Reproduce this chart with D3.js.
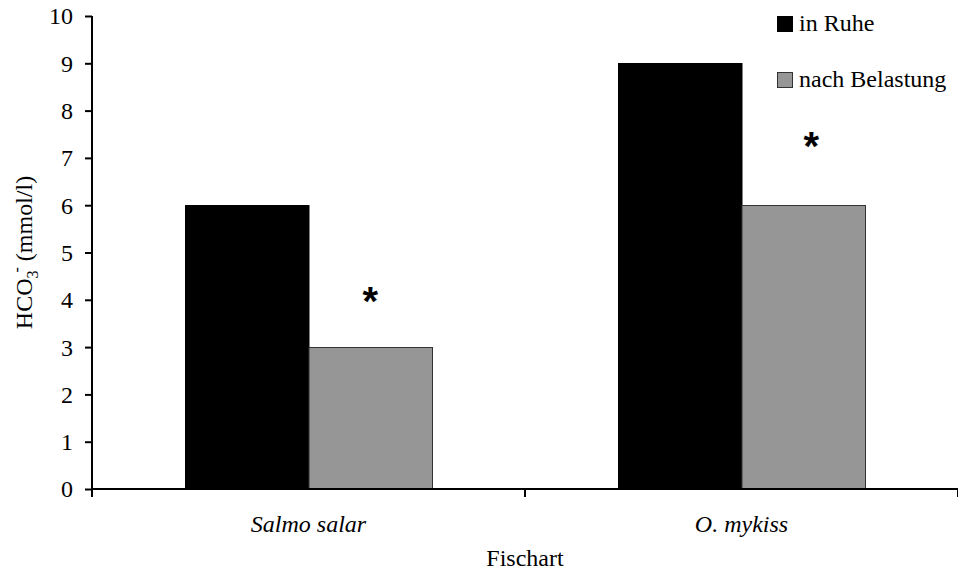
<!DOCTYPE html>
<html>
<head>
<meta charset="utf-8">
<script src="https://cdn.jsdelivr.net/npm/d3@7/dist/d3.min.js"></script>
<style>
  html, body { margin: 0; padding: 0; background: #fff; }
  svg { display: block; }
</style>
</head>
<body>
<script>
// Bicarbonate concentration by fish species, at rest vs. after exercise
const species = ["Salmo salar", "O. mykiss"];
const seriesNames = ["in Ruhe", "nach Belastung"];
const restValues = [6, 9];
const exerciseValues = [3, 6];
// significance markers (height in mmol/l where the star is centred)
const starValues = [4.1, 7.38];
const yTicks = [0, 1, 2, 3, 4, 5, 6, 7, 8, 9, 10];

const W = 958, H = 572;
const margin = { left: 92, right: 0, top: 16, bottom: 83 };
const colors = ["#000000", "#969696"];
const strokes = ["#000000", "#333333"];
const SERIF = '"Liberation Serif"';
const FS = 24;

const svg = d3.select("body").append("svg")
  .attr("width", W).attr("height", H);

const x0 = d3.scaleBand().domain(species)
  .range([margin.left, W - margin.right]).padding(0);
const x1 = d3.scaleBand().domain(seriesNames)
  .range([0, x0.bandwidth()]).paddingInner(0).paddingOuter(0.753);
const y = d3.scaleLinear().domain([0, 10])
  .range([H - margin.bottom, margin.top]);

const rows = species.map((s, i) => ({
  species: s,
  values: [restValues[i], exerciseValues[i]],
  star: starValues[i],
  i
}));

// bars
const groups = svg.append("g").selectAll("g").data(rows).join("g")
  .attr("transform", d => `translate(${x0(d.species)},0)`);

groups.selectAll("rect")
  .data(d => d.values.map((v, j) => ({ key: seriesNames[j], value: v, j })))
  .join("rect")
  .attr("x", d => x1(d.key) + 0.5)
  .attr("y", d => Math.round(y(d.value)) + 0.5)
  .attr("width", x1.bandwidth())
  .attr("height", d => Math.round(y(0)) - Math.round(y(d.value)))
  .attr("fill", d => colors[d.j])
  .attr("stroke", d => strokes[d.j])
  .attr("stroke-width", 1);

// significance stars above the post-exercise bars
const starSize = 40;
const starShift = [0, 8];
groups.append("text")
  .attr("x", d => x1("nach Belastung") + x1.bandwidth() / 2 + starShift[d.i])
  .attr("y", d => y(d.star) + starSize * 0.5)
  .attr("text-anchor", "middle")
  .style("font-family", '"Liberation Sans"')
  .style("font-weight", "bold")
  .style("font-size", starSize + "px")
  .style("fill", "#000")
  .text("*");

// y axis
const yAxis = svg.append("g")
  .attr("transform", `translate(${margin.left},0)`)
  .call(d3.axisLeft(y).tickValues(yTicks).tickSize(7).tickPadding(12).tickFormat(d3.format("d")));
yAxis.attr("font-family", null).attr("font-size", null);
yAxis.select(".domain").attr("stroke", "#000").attr("stroke-width", 2)
  .attr("d", `M0,${margin.top}V${y(0) + 8}`);
yAxis.selectAll(".tick line").attr("stroke", "#000").attr("stroke-width", 2);
yAxis.selectAll(".tick text")
  .attr("dy", "0.33em")
  .style("font-family", SERIF)
  .style("font-size", FS + "px")
  .style("fill", "#000");

// x axis with category boundary ticks
const boundaries = [margin.left + x0.bandwidth(), W - margin.right];
const xAxisG = svg.append("g");
xAxisG.append("line")
  .attr("x1", margin.left).attr("x2", W)
  .attr("y1", y(0)).attr("y2", y(0))
  .attr("stroke", "#000").attr("stroke-width", 2);
xAxisG.selectAll("line.bt").data(boundaries).join("line")
  .attr("class", "bt")
  .attr("x1", d => d).attr("x2", d => d)
  .attr("y1", y(0)).attr("y2", y(0) + 8)
  .attr("stroke", "#000").attr("stroke-width", 2);
xAxisG.selectAll("text").data(species).join("text")
  .attr("x", d => x0(d) + x0.bandwidth() / 2)
  .attr("y", y(0) + 43)
  .attr("text-anchor", "middle")
  .style("font-family", SERIF)
  .style("font-style", "italic")
  .style("font-size", FS + "px")
  .style("fill", "#000")
  .text(d => d);

// axis titles
svg.append("text")
  .attr("x", margin.left + (W - margin.left) / 2)
  .attr("y", 566)
  .attr("text-anchor", "middle")
  .style("font-family", SERIF)
  .style("font-size", FS + "px")
  .style("fill", "#000")
  .text("Fischart");

const yt = svg.append("text")
  .attr("transform", `translate(32,${(margin.top + y(0)) / 2}) rotate(-90)`)
  .attr("text-anchor", "middle")
  .style("font-family", SERIF)
  .style("font-size", FS + "px")
  .style("fill", "#000");
yt.append("tspan").text("HCO");
yt.append("tspan").attr("dy", 6).style("font-size", "16px").text("3");
yt.append("tspan").attr("dy", -16).attr("dx", -2).style("font-size", "16px").text("-");
yt.append("tspan").attr("dy", 10).text(" (mmol/l)");

// legend
const legend = svg.append("g").attr("transform", "translate(777,0)");
const legendY = [16, 72];
seriesNames.forEach((name, i) => {
  legend.append("rect")
    .attr("x", 0.5).attr("y", legendY[i] + 0.5)
    .attr("width", 15).attr("height", 15)
    .attr("fill", colors[i]).attr("stroke", strokes[i]);
  legend.append("text")
    .attr("x", 22).attr("y", legendY[i] + 15)
    .style("font-family", SERIF)
    .style("font-size", FS + "px")
    .style("fill", "#000")
    .text(name);
});
</script>
</body>
</html>
